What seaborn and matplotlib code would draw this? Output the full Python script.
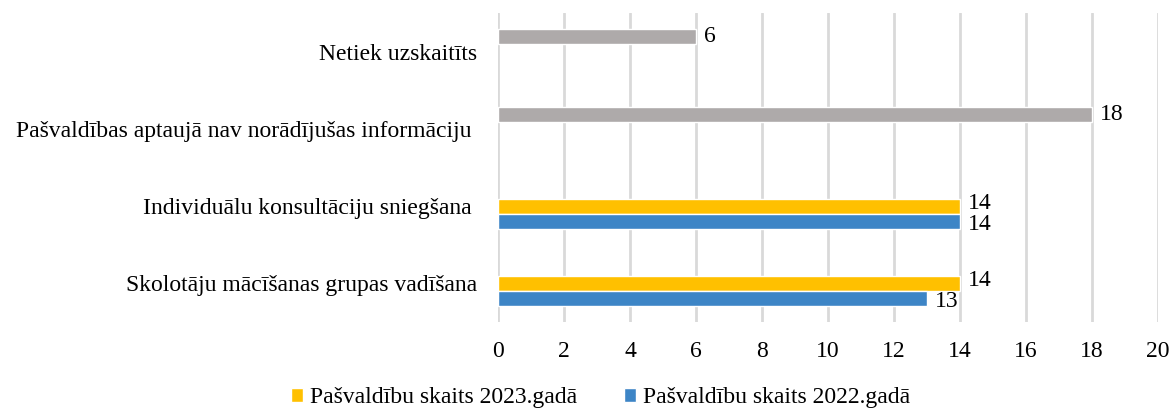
import pandas as pd
import seaborn as sns
import matplotlib.pyplot as plt

# categories top -> bottom
categories = ["Netiek uzskaitīts",
              "Pašvaldības aptaujā nav norādījušas informāciju ",
              "Individuālu konsultāciju sniegšana ",
              "Skolotāju mācīšanas grupas vadīšana"]
series = ["Cits", "Pašvaldību skaits 2023.gadā", "Pašvaldību skaits 2022.gadā"]
other_vals = [6, 18, None, None]
vals_2023 = [None, None, 14, 14]
vals_2022 = [None, None, 14, 13]
colors = ["#AEAAAA", "#FFC000", "#3D85C6"]

rows = []
for s, vals in zip(series, [other_vals, vals_2023, vals_2022]):
    for c, v in zip(categories, vals):
        if v is not None:
            rows.append({"Kategorija": c, "Sērija": s, "Skaits": v})
df = pd.DataFrame(rows)

sns.set_style("white")
plt.rcParams['font.family'] = ['Liberation Serif', 'DejaVu Serif']
plt.rcParams['text.color'] = 'black'
fs = 17

fig = plt.figure(figsize=(11.73, 4.12), dpi=100)
ax = fig.add_axes([0.4246, 0.2184, 0.5626, 0.7496])
sns.barplot(data=df, y="Kategorija", x="Skaits", hue="Sērija", order=categories,
            hue_order=series, palette=colors, orient="h", width=0.58,
            saturation=1, errorbar=None, ax=ax)

# value labels; nudge the 2023 ones up and 2022 ones down so they do not collide
shifts = [0, 2, -2.5]
for cont, dy in zip(ax.containers, shifts):
    anns = ax.bar_label(cont, padding=6, fontsize=fs, color="black")
    for a in anns:
        a.xyann = (a.xyann[0], dy)

ax.set_xlim(0, 20)
ax.set_xticks(range(0, 21, 2))
ax.grid(axis="x", color="#D9D9D9", linewidth=2)
ax.set_axisbelow(True)
for sp in ax.spines.values():
    sp.set_visible(False)
ax.set_xlabel("")
ax.set_ylabel("")
ax.tick_params(axis="x", labelsize=fs, pad=14, length=0, labelcolor="black")
ax.tick_params(axis="y", labelsize=fs, pad=15, length=0, labelcolor="black")

handles, labels = ax.get_legend_handles_labels()
ax.legend_.remove()
fig.legend(handles[1:], labels[1:], loc="center", bbox_to_anchor=(0.512, 0.034),
           ncol=2, frameon=False, fontsize=fs, handlelength=0.5, handleheight=0.5,
           handletextpad=0.3, columnspacing=2.0, labelcolor="black")

fig.savefig("out.png", dpi=100)
